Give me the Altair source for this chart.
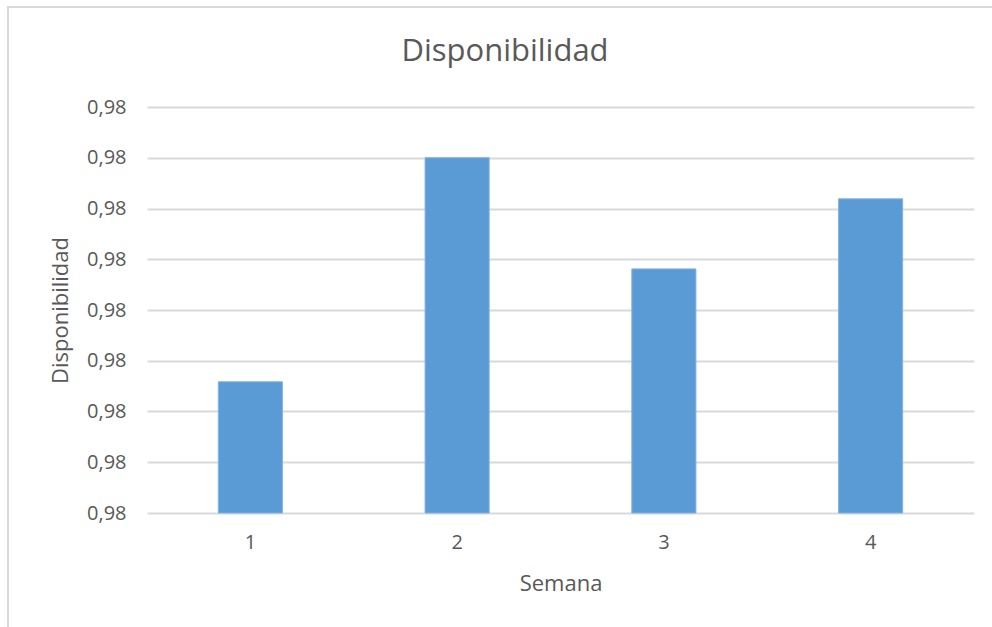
import altair as alt
import pandas as pd

semanas = ["1", "2", "3", "4"]
disponibilidad = [0.976517, 0.977400, 0.976962, 0.977238]
y_ticks = [0.9760, 0.9762, 0.9764, 0.9766, 0.9768, 0.9770, 0.9772, 0.9774, 0.9776]
y_min, y_max = 0.9760, 0.9776

df = pd.DataFrame({"Semana": semanas, "Disponibilidad": disponibilidad})

TXT = "#595959"
FONT = "Open Sans"

W, H = 827, 406
PL, PT = 147, 107

bars = alt.Chart(df).mark_bar(color="#5B9BD5", stroke="#7fb2e0", strokeWidth=1).encode(
    x=alt.X("Semana:N", sort=semanas,
            scale=alt.Scale(paddingInner=0.69, paddingOuter=0.345),
            axis=alt.Axis(title="Semana", labelAngle=0, ticks=False, domain=False,
                          grid=False,
                          labelFontSize=20, labelColor=TXT, labelFont=FONT,
                          labelPadding=19,
                          titleFontSize=22, titleColor=TXT, titleFont=FONT,
                          titleFontWeight="normal", titleY=70, titleBaseline="middle")),
    y=alt.Y("Disponibilidad:Q",
            scale=alt.Scale(domain=[y_min, y_max], zero=False, nice=False),
            axis=alt.Axis(title="Disponibilidad", values=y_ticks,
                          labelExpr="replace(format(datum.value, '.2f'), '.', ',')",
                          ticks=False, domain=False,
                          grid=True, gridColor="#d9d9d9", gridWidth=2,
                          labelFontSize=20, labelColor=TXT, labelFont=FONT,
                          labelPadding=21, labelBaseline="middle",
                          titleFontSize=22, titleColor=TXT, titleFont=FONT,
                          titleFontWeight="normal", titleX=-87, titleY=203,
                          titleAngle=270, titleAlign="center", titleBaseline="middle")),
    y2=alt.datum(y_min),
)

border = alt.Chart(pd.DataFrame({"a": [0]})).mark_rect(
    fill="transparent", stroke="#d9d9d9", strokeWidth=2, clip=False
).encode(
    x=alt.value(8 - PL), x2=alt.value(1010 - PL),
    y=alt.value(7 - PT), y2=alt.value(650 - PT),
)

title = alt.Chart(pd.DataFrame({"t": ["Disponibilidad"]})).mark_text(
    fontSize=31, color=TXT, font=FONT, align="center", baseline="middle"
).encode(
    text="t:N", x=alt.value(505 - PL), y=alt.value(52 - PT)
)

chart = alt.layer(border, bars, title).properties(
    width=W, height=H,
    background="white",
    autosize=alt.AutoSizeParams(type="none"),
    padding={"left": PL, "top": PT, "right": 992 - PL - W, "bottom": 627 - PT - H},
).configure_view(strokeWidth=0, stroke="transparent")

chart.save("out.html", embed_options={"renderer": "svg", "actions": False})
